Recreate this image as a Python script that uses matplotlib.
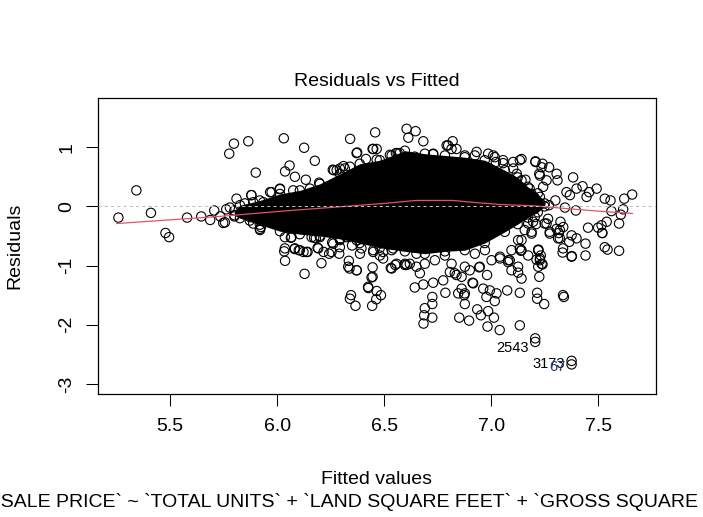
import numpy as np
import matplotlib
matplotlib.use("Agg")
import matplotlib.pyplot as plt

plt.rcParams['font.family'] = ['Liberation Sans', 'DejaVu Sans']

# residuals vs fitted values (outer points only)
fitted = [5.258, 5.342, 5.41, 5.478, 5.495, 5.579, 5.645, 5.687, 5.706, 5.748, 5.734, 5.762,
          5.779, 5.798, 5.776, 5.865, 5.90, 5.81, 5.879, 5.888, 5.967, 6.013, 6.031, 6.037,
          6.058, 6.033, 6.037, 5.92, 5.924, 5.80, 5.756, 5.888, 5.872, 5.98,
          6.126, 6.176, 6.341, 6.458, 6.374, 6.446, 6.465, 6.083, 6.134, 6.26, 6.293,
          6.31, 6.563, 6.527, 6.555, 6.196, 6.265, 6.34, 6.394,
          6.605, 6.647, 6.613, 6.683, 6.792, 6.82, 6.815, 6.729, 6.932, 7.01, 7.056, 7.022,
          7.103, 7.142, 7.207, 7.24, 7.271, 7.225, 7.259, 7.306, 7.31, 7.383, 7.399, 7.427,
          7.458, 7.493, 7.446, 7.352, 7.368, 7.531, 7.558, 7.622, 7.659, 7.617, 7.562, 7.606,
          7.598, 7.54, 7.516, 7.50, 7.453, 7.52, 7.531, 7.544, 7.598, 7.441, 7.441, 7.377,
          7.334, 7.399, 7.365, 7.324, 7.321, 7.274, 7.22, 7.236, 7.225, 7.266, 7.25, 7.204,
          7.189, 7.142, 7.274, 7.313, 7.376, 7.316, 7.519, 7.139, 7.087, 7.095, 7.142,
          7.345, 7.396, 7.337, 7.259, 7.196, 7.189, 7.16, 7.12, 7.18, 7.20, 7.23, 7.27, 7.30,
          7.15, 7.21,
          6.081, 6.101, 6.123, 6.142, 6.064, 6.207, 6.128, 6.173, 6.189, 6.217, 6.257, 6.29,
          6.335, 6.338, 6.372, 6.35, 6.446, 6.446, 6.426, 6.465, 6.485, 6.345, 6.34, 6.366,
          6.463, 6.444, 6.531, 6.552, 6.243, 6.387, 6.449, 6.495, 6.535, 6.558, 6.597, 6.48,
          6.542, 6.643, 6.683, 6.729, 6.786, 6.725, 6.725, 6.69, 6.687, 6.684, 6.725, 6.667,
          6.651, 6.62, 6.776, 6.807, 6.862, 6.916, 6.846, 6.851, 6.897, 6.877, 6.877, 6.935,
          6.952, 6.983, 6.986, 7.013, 7.04, 7.134, 6.963, 6.994, 7.025, 6.978, 7.017, 7.075,
          7.134, 7.215, 7.215, 7.248, 7.34, 7.126, 6.981, 6.944, 6.913, 6.874, 7.212, 7.24,
          7.221, 7.232, 6.605, 6.838, 6.862, 6.90, 6.947, 7.041, 7.079, 7.126, 7.134, 7.173,
          7.228, 7.306, 7.321, 7.336, 7.376, 7.336, 6.181, 6.262, 6.332, 6.371, 6.441, 6.425,
          # along the edge of the dense core
          6.371, 6.415, 6.449, 6.465, 6.278, 6.316, 5.974, 6.013, 5.88, 5.849, 5.935, 6.028,
          6.075, 6.153, 6.20, 5.919, 5.873, 6.036, 6.067, 6.161, 6.20, 6.293, 6.324, 6.371,
          6.394, 6.449, 6.495, 6.036, 6.083, 6.106, 6.137, 6.192, 6.254, 6.293,
          6.535, 6.573, 6.643, 6.729, 6.799, 6.838, 6.877, 6.924, 6.986, 7.017, 7.056, 7.103,
          7.134, 7.142, 7.189, 7.207, 7.236, 7.228, 7.243, 7.228,
          6.535, 6.597, 6.651, 6.69, 6.737, 6.784, 6.815, 6.83, 6.877, 6.924, 6.971, 7.002,
          7.041, 7.08, 7.095, 7.126, 7.142, 7.157, 7.173, 7.22, 7.228, 7.22,
          # labelled points
          7.206, 7.206, 7.376, 7.376]
resid = [-0.19, 0.27, -0.11, -0.45, -0.52, -0.19, -0.17, -0.23, -0.07, -0.28, -0.17, -0.05,
         -0.02, 1.06, 0.89, 1.10, 0.57, 0.13, 0.19, 0.07, 0.24, 0.29, 1.15, 0.59,
         0.69, -0.76, -0.92, -0.40, -0.35, -0.17, -0.27, -0.29, -0.24, 0.02,
         0.99, 0.77, 1.14, 1.25, 0.91, 0.97, 0.97, 0.50, 0.45, 0.62, 0.64,
         0.68, 0.90, 0.87, 0.90, 0.40, 0.61, 0.67, 0.61,
         1.31, 1.27, 1.16, 1.10, 1.03, 1.10, 0.97, 0.89, 0.92, 0.86, 0.73, 0.75,
         0.75, 0.80, 0.76, 0.72, 0.66, 0.55, 0.44, 0.55, 0.44, 0.49, 0.30, 0.34,
         0.24, 0.30, 0.16, 0.24, 0.19, 0.13, 0.10, 0.13, 0.20, -0.05, -0.08, -0.14,
         -0.29, -0.26, -0.32, -0.36, -0.36, -0.45, -0.69, -0.73, -0.75, -0.63, -0.83, -0.84,
         -0.78, -0.54, -0.60, -0.26, -0.40, -0.43, -0.74, -0.97, -1.19, -0.21, -0.29, -0.18,
         -0.46, -0.57, -0.46, -0.54, -0.49, -0.45, -0.45, -0.75, -0.91, -1.08, -1.22,
         -0.02, -0.07, -0.35, -0.29, -0.26, -0.43, 0.45, 0.55, 0.30, 0.10, 0.05, 0.02, 0.10,
         -0.10, -0.30,
         -0.72, -0.74, -0.77, -0.77, -0.53, -0.96, -1.14, -0.53, -0.70, -0.77, -0.61, -0.80,
         -0.92, -1.05, -1.08, -0.66, -1.03, -1.19, -1.38, -1.43, -1.50, -1.50, -1.56, -1.68,
         -1.57, -1.68, -1.04, -0.99, -0.80, -0.80, -0.77, -0.88, -1.05, -0.97, -0.99, -0.83,
         -0.71, -1.37, -1.32, -1.29, -1.46, -1.53, -1.65, -1.72, -1.84, -1.98, -1.88, -1.13,
         -1.02, -0.97, -1.25, -1.11, -1.19, -1.30, -1.47, -1.88, -1.93, -1.65, -1.47, -1.74,
         -1.84, -2.03, -1.77, -1.88, -2.09, -2.01, -1.39, -1.42, -1.47, -1.53, -1.60, -1.42,
         -1.46, -1.46, -1.56, -1.65, -1.53, -1.12, -1.16, -1.03, -1.29, -1.50, -0.90, -0.98,
         -0.73, -0.83, -0.99, -1.16, -1.39, -1.08, -1.02, -0.88, -0.94, -1.02, -0.71, -0.83,
         -0.91, -0.38, -0.54, -0.71, -0.85, -1.50, -0.54, -0.63, -1.02, -1.08, -1.20, -1.36,
         0.90, 0.80, 0.97, 0.79, 0.61, 0.64, 0.24, 0.30, 0.19, 0.05, 0.07, 0.07,
         0.27, 0.30, 0.27, -0.38, -0.18, -0.52, -0.52, -0.52, -0.52, -0.57, -0.52, -0.57,
         -0.71, -0.74, -0.77, -0.71, -0.71, -0.74, -0.77, -0.71, -0.77, -0.69,
         0.86, 0.90, 0.84, 0.88, 1.03, 0.97, 0.86, 0.86, 0.89, 0.83, 0.78, 0.64,
         0.78, 0.44, 0.21, 0.75, 0.66, 0.52, 0.33, 0.16,
         -0.74, -0.97, -0.80, -0.97, -0.91, -0.83, -0.97, -1.13, -1.02, -0.80, -0.74, -0.91,
         -0.85, -0.91, -0.74, -0.57, -0.74, -0.40, -0.29, -0.74, -0.88, -1.02,
         -2.23, -2.29, -2.61, -2.67]

# outline of the dense (solid black) core of the cloud
core_x = [5.80, 5.826, 5.919, 6.013, 6.106, 6.199, 6.293, 6.386, 6.480, 6.597, 6.690, 6.784,
          6.877, 6.970, 7.064, 7.124, 7.171, 7.218, 7.25]
core_hi = [-0.07, 0.02, 0.10, 0.21, 0.27, 0.38, 0.55, 0.72, 0.78, 0.94, 0.89, 0.86,
           0.83, 0.78, 0.61, 0.49, 0.33, 0.22, 0.05]
core_lo = [-0.15, -0.20, -0.31, -0.42, -0.47, -0.50, -0.55, -0.62, -0.70, -0.76, -0.80, -0.76,
           -0.74, -0.62, -0.43, -0.30, -0.19, -0.10, 0.0]

# smoother
smooth_x = [5.25, 5.45, 5.73, 6.06, 6.32, 6.50, 6.65, 6.82, 6.94, 7.05, 7.20, 7.36, 7.50, 7.66]
smooth_y = [-0.29, -0.24, -0.17, -0.07, 0.00, 0.05, 0.10, 0.10, 0.06, 0.03, 0.01, -0.04, -0.08, -0.12]

# labelled extreme residuals
lab_ids = ["2543", "3173", "67"]
lab_x = [7.206, 7.376, 7.376]
lab_y = [-2.26, -2.61, -2.67]

fig = plt.figure(figsize=(7.03, 5.17), dpi=100)
ax = fig.add_axes([0.1398, 0.2379, 0.7929, 0.5720])

ax.fill_between(core_x, core_lo, core_hi, color='black', lw=0, zorder=2)
ax.scatter(core_x, core_hi, s=45, facecolors='none', edgecolors='black', linewidths=0.8, zorder=2)
ax.scatter(core_x, core_lo, s=45, facecolors='none', edgecolors='black', linewidths=0.8, zorder=2)
ax.scatter(fitted, resid, s=45, facecolors='none', edgecolors='black', linewidths=0.8, zorder=3)
ax.plot(smooth_x, smooth_y, color='#DF536B', lw=0.9, zorder=4)
ax.axhline(0, color='#BEBEBE', lw=0.75, linestyle=(0, (3, 3)), zorder=5)

ax.annotate(lab_ids[0], (lab_x[0], lab_y[0]), xytext=(-5, -6), textcoords='offset points',
            ha='right', va='center', fontsize=10.5)
ax.annotate(lab_ids[1], (lab_x[1], lab_y[1]), xytext=(-5, -2), textcoords='offset points',
            ha='right', va='center', fontsize=10.5)
ax.annotate(lab_ids[2], (lab_x[2], lab_y[2]), xytext=(-10, -2), textcoords='offset points',
            ha='center', va='center', fontsize=10.5, color='#1f3b73')

ax.set_xlim(5.164, 7.769)
ax.set_ylim(-3.17, 1.826)
ax.set_xticks([5.5, 6.0, 6.5, 7.0, 7.5])
ax.set_xticklabels(["5.5", "6.0", "6.5", "7.0", "7.5"])
ax.set_yticks([-3, -2, -1, 0, 1])
ax.set_yticklabels(["-3", "-2", "-1", "0", "1"], rotation=90, va='center')
ax.tick_params(direction='out', length=8.5, width=0.75, labelsize=14)
ax.tick_params(axis='x', pad=9)
ax.tick_params(axis='y', pad=8)
for s in ax.spines.values():
    s.set_linewidth(0.9)

fig.text(0.536, 0.8433, "Residuals vs Fitted", ha='center', va='center', fontsize=14)
fig.text(0.536, 0.0735, "Fitted values", ha='center', va='center', fontsize=14)
fig.text(0.0213, 0.524, "Residuals", ha='center', va='center', rotation=90, fontsize=14)
fig.text(0.536, 0.0296,
         "lm(`SALE PRICE` ~ `TOTAL UNITS` + `LAND SQUARE FEET` + `GROSS SQUARE FEET`  ...",
         ha='center', va='center', fontsize=14)

fig.savefig("out.png", dpi=100)
